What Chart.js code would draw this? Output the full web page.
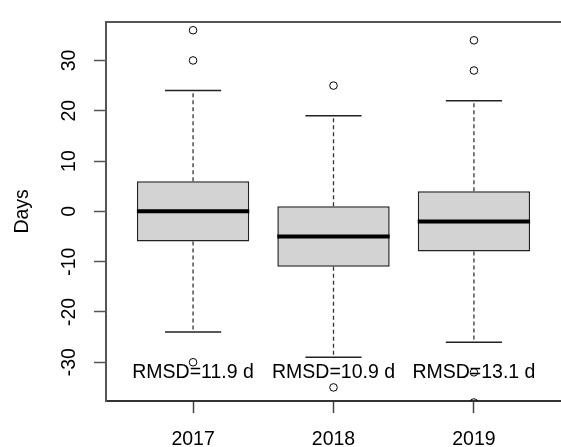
<!DOCTYPE html>
<html>
<head>
<meta charset="utf-8">
<script src="https://cdn.jsdelivr.net/npm/chart.js@4"></script>
<style>
  html, body { margin: 0; padding: 0; background: #fff; overflow: hidden; }
  #wrap { width: 566px; height: 447px; }
</style>
</head>
<body>
<div id="wrap"><canvas id="chart" width="566" height="447"></canvas></div>
<script>
/* ── Data ─────────────────────────────────── */
const years       = ['2017', '2018', '2019'];
const positions   = [1, 2, 3];
const q1          = [-6, -11, -8];
const medians     = [0, -5, -2];
const q3          = [6, 1, 4];
const whiskerLow  = [-24, -29, -26];
const whiskerHigh = [24, 19, 22];
const outliers    = [[36, 30, -30], [25, -35], [34, 28, -32, -38]];
const rmsdLabels  = ['RMSD=11.9 d', 'RMSD=10.9 d', 'RMSD=13.1 d'];
const rmsdY       = -32;
const yTicks      = [-30, -20, -10, 0, 10, 20, 30];

const FONT = "'Liberation Sans', Arial, sans-serif";
const FONT_SIZE = 19.5;
const BOX_HALF = 0.4, CAP_HALF = 0.2;

// segments separated by null gaps
function segments(list) {
  const out = [];
  list.forEach(([x0, x1, y0, y1]) => {
    out.push({ x: x0, y: y0 }, { x: x1, y: y1 }, { x: x1, y: null });
  });
  return out;
}

const whiskerData = segments(positions.flatMap((p, i) => [
  [p, p, q3[i], whiskerHigh[i]],
  [p, p, q1[i], whiskerLow[i]],
]));
const capData = segments(positions.flatMap((p, i) => [
  [p - CAP_HALF, p + CAP_HALF, whiskerHigh[i], whiskerHigh[i]],
  [p - CAP_HALF, p + CAP_HALF, whiskerLow[i], whiskerLow[i]],
]));
const medianData = segments(positions.map((p, i) =>
  [p - BOX_HALF, p + BOX_HALF, medians[i], medians[i]]));
const outlierData = positions.flatMap((p, i) => outliers[i].map(v => ({ x: p, y: v })));

/* ── Text labels plugin ───────────────────── */
const rmsdText = {
  id: 'rmsdText',
  afterDatasetsDraw(chart) {
    const { ctx, scales: { x, y } } = chart;
    ctx.save();
    ctx.font = `${FONT_SIZE}px ${FONT}`;
    ctx.fillStyle = '#000';
    ctx.textAlign = 'center';
    ctx.textBaseline = 'middle';
    rmsdLabels.forEach((t, i) => {
      ctx.fillText(t, x.getPixelForValue(positions[i]), y.getPixelForValue(rmsdY));
    });
    ctx.restore();
  },
};

/* ── Chart ────────────────────────────────── */
new Chart(document.getElementById('chart'), {
  type: 'bar',
  data: {
    datasets: [
      {
        type: 'scatter',
        data: outlierData,
        pointStyle: 'circle',
        pointRadius: 3.8,
        borderWidth: 1,
        borderColor: '#000',
        backgroundColor: 'rgba(0,0,0,0)',
        clip: 0,
        order: 1,
      },
      {
        type: 'line',
        data: medianData,
        borderColor: '#000',
        borderWidth: 4,
        borderCapStyle: 'butt',
        pointRadius: 0,
        spanGaps: false,
        order: 2,
      },
      {
        data: positions.map((p, i) => ({ x: p, y: [q1[i], q3[i]] })),
        backgroundColor: '#D3D3D3',
        borderColor: '#222',
        borderWidth: 1.5,
        borderSkipped: false,
        categoryPercentage: 0.8,
        barPercentage: 1,
        grouped: false,
        order: 3,
      },
      {
        type: 'line',
        data: capData,
        borderColor: '#222',
        borderWidth: 1.5,
        pointRadius: 0,
        spanGaps: false,
        order: 4,
      },
      {
        type: 'line',
        data: whiskerData,
        borderColor: '#333',
        borderWidth: 1.3,
        borderDash: [4, 3],
        pointRadius: 0,
        spanGaps: false,
        order: 5,
      },
    ],
  },
  options: {
    responsive: false,
    animation: false,
    layout: { padding: { left: 0, top: 14, right: 0, bottom: 0 } },
    plugins: { legend: { display: false }, tooltip: { enabled: false } },
    scales: {
      x: {
        type: 'linear',
        position: 'bottom',
        offset: false,
        min: 0.38,
        max: 3.62,
        afterBuildTicks: s => { s.ticks = positions.map(v => ({ value: v })); },
        afterFit: s => { s.height = 46; },
        ticks: {
          callback: (v) => years[positions.indexOf(v)],
          font: { family: FONT, size: FONT_SIZE },
          color: '#000',
          padding: 15,
          maxRotation: 0,
          autoSkip: false,
        },
        grid: { offset: false, drawOnChartArea: false, tickLength: 12, tickColor: '#444', tickWidth: 1.5 },
        border: { display: true, color: '#333', width: 2 },
      },
      xTop: {
        type: 'linear',
        position: 'top',
        offset: false,
        min: 0.38,
        max: 3.62,
        afterFit: s => { s.height = 0; },
        ticks: { display: false },
        grid: { offset: false, drawOnChartArea: false, drawTicks: false },
        border: { display: true, color: '#555', width: 2 },
      },
      y: {
        type: 'linear',
        position: 'left',
        min: -37.7,
        max: 37.7,
        afterBuildTicks: s => { s.ticks = yTicks.map(v => ({ value: v })); },
        afterFit: s => { s.width = 106; },
        ticks: {
          font: { family: FONT, size: FONT_SIZE },
          color: '#000',
          minRotation: 90,
          maxRotation: 90,
          crossAlign: 'center',
          padding: 10,
          autoSkip: false,
        },
        grid: { drawOnChartArea: false, tickLength: 12, tickColor: '#555', tickWidth: 1.5 },
        border: { display: true, color: '#555', width: 2 },
        title: {
          display: true,
          text: 'Days',
          font: { family: FONT, size: FONT_SIZE },
          color: '#000',
          padding: { top: 11, bottom: 0 },
        },
      },
    },
  },
  plugins: [rmsdText],
});
</script>
</body>
</html>
